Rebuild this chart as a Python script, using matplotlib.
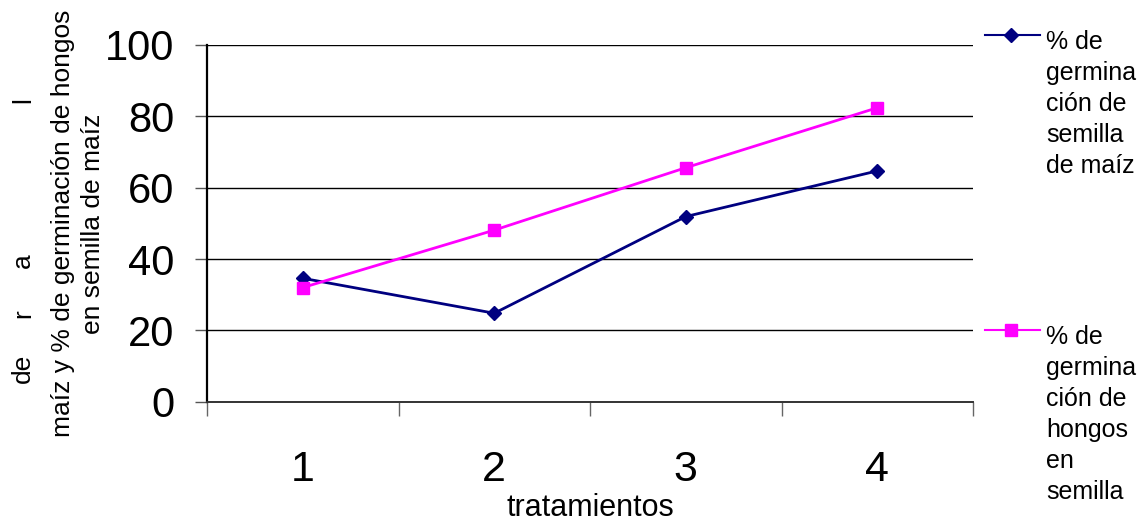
import matplotlib
matplotlib.use("Agg")
import matplotlib.pyplot as plt
from matplotlib.lines import Line2D

plt.rcParams['font.family'] = ['Liberation Sans', 'DejaVu Sans']

# ---- data ----
tratamientos = [1, 2, 3, 4]
tick_labels = ["1", "2", "3", "4"]
germ_semilla = [34.6, 24.8, 51.9, 64.7]     # % de germinación de semilla de maíz
germ_hongos = [32.0, 48.1, 65.6, 82.4]      # % de germinación de hongos en semilla
label_semilla = "% de\ngermina\nción de\nsemilla\nde maíz"
label_hongos = "% de\ngermina\nción de\nhongos\nen\nsemilla"
y_ticks = [0, 20, 40, 60, 80, 100]

W, H = 1141, 522
fig = plt.figure(figsize=(W / 100, H / 100), dpi=100)
ax = fig.add_axes([207 / W, 1 - 401.7 / H, 766 / W, (401.7 - 45) / H])

blue = "#000080"
pink = "#FF00FF"

ax.plot(tratamientos, germ_semilla, color=blue, lw=2, marker="D", ms=7.5,
        mfc=blue, mec=blue, zorder=3)
ax.plot(tratamientos, germ_hongos, color=pink, lw=2, marker="s", ms=8.3,
        mfc=pink, mec=pink, zorder=3)

ax.set_xlim(0.5, 4.5)
ax.set_ylim(0, 100)
ax.set_yticks(y_ticks)
ax.set_yticklabels([str(v) for v in y_ticks])
ax.set_xticks([0.5, 1.5, 2.5, 3.5, 4.5])
ax.set_xticklabels([])
ax.set_xticks(tratamientos, minor=True)
ax.set_xticklabels(tick_labels, minor=True)

ax.yaxis.grid(True, color="black", lw=1)
ax.set_axisbelow(True)

for s in ("top", "right"):
    ax.spines[s].set_visible(False)
ax.spines["left"].set_color("black")
ax.spines["left"].set_linewidth(1.6)
ax.spines["bottom"].set_color("#333333")
ax.spines["bottom"].set_linewidth(1.4)

ax.tick_params(axis="y", direction="out", length=9, width=1, color="#555555",
               labelsize=30, pad=14.5)
ax.tick_params(axis="x", which="major", direction="out", length=10, width=1,
               color="#666666")
ax.tick_params(axis="x", which="minor", length=0, labelsize=31, pad=35)

ax.set_xlabel("tratamientos", fontsize=22, labelpad=2)

ax.set_ylabel("maíz y % de germinación de hongos\nen semilla de maíz",
              fontsize=19, linespacing=1.3)
ax.yaxis.set_label_coords((105 - 207) / 766, 0.5)

# first (justified) line of the y label
for txt, ypx in [("de", 368), ("r", 314), ("a", 261), ("l", 100)]:
    fig.text(23 / W, 1 - ypx / H, txt, rotation=90, fontsize=19,
             ha="center", va="center")

# legend (outside right)
for ypx, color, marker, ms, label in [
        (35, blue, "D", 7.5, label_semilla),
        (330, pink, "s", 8.3, label_hongos)]:
    fig.add_artist(Line2D([985 / W, 1040 / W], [1 - ypx / H, 1 - ypx / H],
                          transform=fig.transFigure, color=color, lw=1.5))
    fig.add_artist(Line2D([1011 / W], [1 - ypx / H], transform=fig.transFigure,
                          color=color, marker=marker, ms=ms, mfc=color, mec=color))
    fig.text(1046 / W, 1 - (ypx - 5) / H, label, fontsize=18, ha="left",
             va="top", linespacing=1.37)

fig.savefig("out.png", dpi=100)
